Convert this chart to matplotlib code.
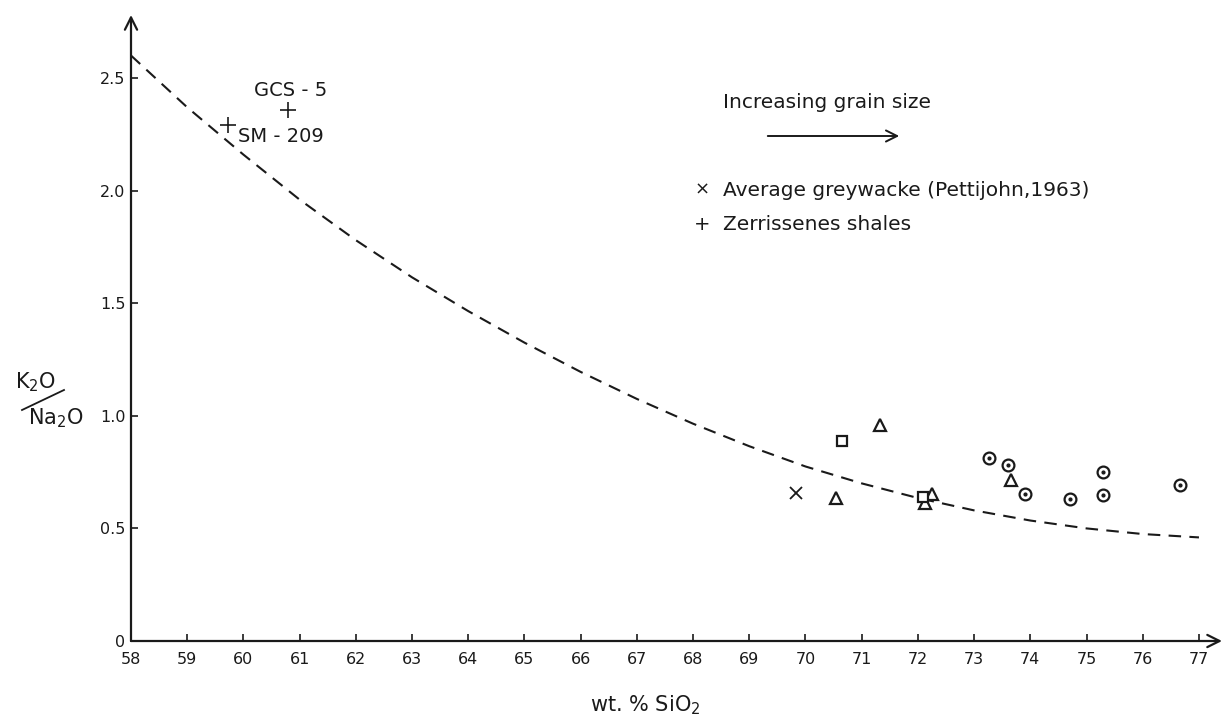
import matplotlib
matplotlib.use("Agg")
import matplotlib.pyplot as plt
from matplotlib.lines import Line2D

plt.rcParams['font.family'] = ['DejaVu Sans']

# ---- data ----
curve_x = [58, 59, 60, 61, 62, 63, 64, 65, 66, 67, 68, 69, 70, 71, 72, 73, 74, 75, 76, 77]
curve_y = [2.60, 2.37, 2.16, 1.96, 1.78, 1.615, 1.465, 1.325, 1.195, 1.075, 0.965, 0.865,
           0.775, 0.70, 0.635, 0.58, 0.535, 0.50, 0.475, 0.46]

tri_x = [71.33, 70.54, 72.25, 72.13, 73.66]
tri_y = [0.96, 0.636, 0.653, 0.613, 0.716]

sq_x = [70.65, 72.09]
sq_y = [0.886, 0.640]

circ_x = [73.27, 73.60, 73.91, 74.71, 75.30, 75.30, 76.67]
circ_y = [0.813, 0.782, 0.653, 0.631, 0.751, 0.649, 0.693]

greywacke_x = [69.83]
greywacke_y = [0.658]

shale_x = [59.73, 60.79]
shale_y = [2.29, 2.36]
shale_labels = ["SM - 209", "GCS - 5"]

xticks = list(range(58, 78))
yticks = [0, 0.5, 1.0, 1.5, 2.0, 2.5]
ytick_labels = ["0", "0.5", "1.0", "1.5", "2.0", "2.5"]

# ---- figure ----
fig = plt.figure(figsize=(12.25, 7.19), dpi=100)
ax = fig.add_axes([131/1225, 1 - 641/719, 1091/1225, 626/719])
ax.set_xlim(58, 77.41)
ax.set_ylim(0, 2.78)

ink = '#1a1a1a'
for s in ax.spines.values():
    s.set_visible(False)
ax.annotate('', xy=(1, 0), xytext=(0, 0), xycoords='axes fraction',
            arrowprops=dict(arrowstyle='->', lw=1.6, color=ink, mutation_scale=22,
                            shrinkA=0, shrinkB=0))
ax.annotate('', xy=(0, 1), xytext=(0, 0), xycoords='axes fraction',
            arrowprops=dict(arrowstyle='->', lw=1.6, color=ink, mutation_scale=22,
                            shrinkA=0, shrinkB=0))

ax.set_xticks(xticks)
ax.set_xticklabels([str(t) for t in xticks])
ax.set_yticks(yticks)
ax.set_yticklabels(ytick_labels)
ax.tick_params(axis='both', direction='in', length=5, width=1.2, colors=ink,
               labelsize=11.5)
ax.tick_params(axis='x', pad=8)
ax.tick_params(axis='y', pad=4)

# dashed curve
ax.plot(curve_x, curve_y, linestyle=(0, (6, 4)), color=ink, lw=1.5)

# data markers
ax.plot(tri_x, tri_y, linestyle='none', marker='^', markersize=9,
        markerfacecolor='white', markeredgecolor=ink, markeredgewidth=1.6)
ax.plot(sq_x, sq_y, linestyle='none', marker='s', markersize=7,
        markerfacecolor='white', markeredgecolor=ink, markeredgewidth=1.6)
ax.plot(circ_x, circ_y, linestyle='none', marker='o', markersize=8.5,
        markerfacecolor='white', markeredgecolor=ink, markeredgewidth=1.6)
ax.plot(circ_x, circ_y, linestyle='none', marker='o', markersize=2,
        markerfacecolor=ink, markeredgecolor=ink)
ax.plot(greywacke_x, greywacke_y, linestyle='none', marker='x', markersize=8,
        markeredgecolor=ink, markeredgewidth=1.3)
ax.plot(shale_x, shale_y, linestyle='none', marker='+', markersize=11,
        markeredgecolor=ink, markeredgewidth=1.2)

# shale sample labels
ax.annotate(shale_labels[0], xy=(shale_x[0], shale_y[0]), xytext=(7, -8),
            textcoords='offset points', fontsize=14, color=ink, va='center', ha='left')
ax.annotate(shale_labels[1], xy=(shale_x[1], shale_y[1]), xytext=(2, 14),
            textcoords='offset points', fontsize=14, color=ink, va='center', ha='center')

# legend / annotations
fig.text(723/1225, 1 - 103/719, "Increasing grain size", fontsize=14.5, color=ink,
         va='center', ha='left')
fig.add_artist(matplotlib.patches.FancyArrowPatch(
    (765/1225, 1 - 136/719), (902/1225, 1 - 136/719), transform=fig.transFigure,
    arrowstyle='->', mutation_scale=20, lw=1.4, color=ink))
fig.text(702/1225, 1 - 190/719, "×", fontsize=13, color=ink, va='center', ha='center')
fig.text(723/1225, 1 - 190/719, "Average greywacke (Pettijohn,1963)", fontsize=14.5,
         color=ink, va='center', ha='left')
fig.text(702/1225, 1 - 225/719, "+", fontsize=14, color=ink, va='center', ha='center')
fig.text(723/1225, 1 - 225/719, "Zerrissenes shales", fontsize=14.5, color=ink,
         va='center', ha='left')

# y label K2O / Na2O
fig.text(36/1225, 1 - 382/719, r"K$_2$O", fontsize=15, color=ink, va='center', ha='center')
fig.text(56/1225, 1 - 418/719, r"Na$_2$O", fontsize=15, color=ink, va='center', ha='center')
fig.add_artist(Line2D([22/1225, 64/1225], [1 - 410/719, 1 - 390/719],
                      transform=fig.transFigure, color=ink, lw=1.3))

# x label
fig.text(645/1225, 1 - 705/719, r"wt. % SiO$_2$", fontsize=15, color=ink,
         va='center', ha='center')

fig.savefig("out.png", dpi=100, facecolor='white')
